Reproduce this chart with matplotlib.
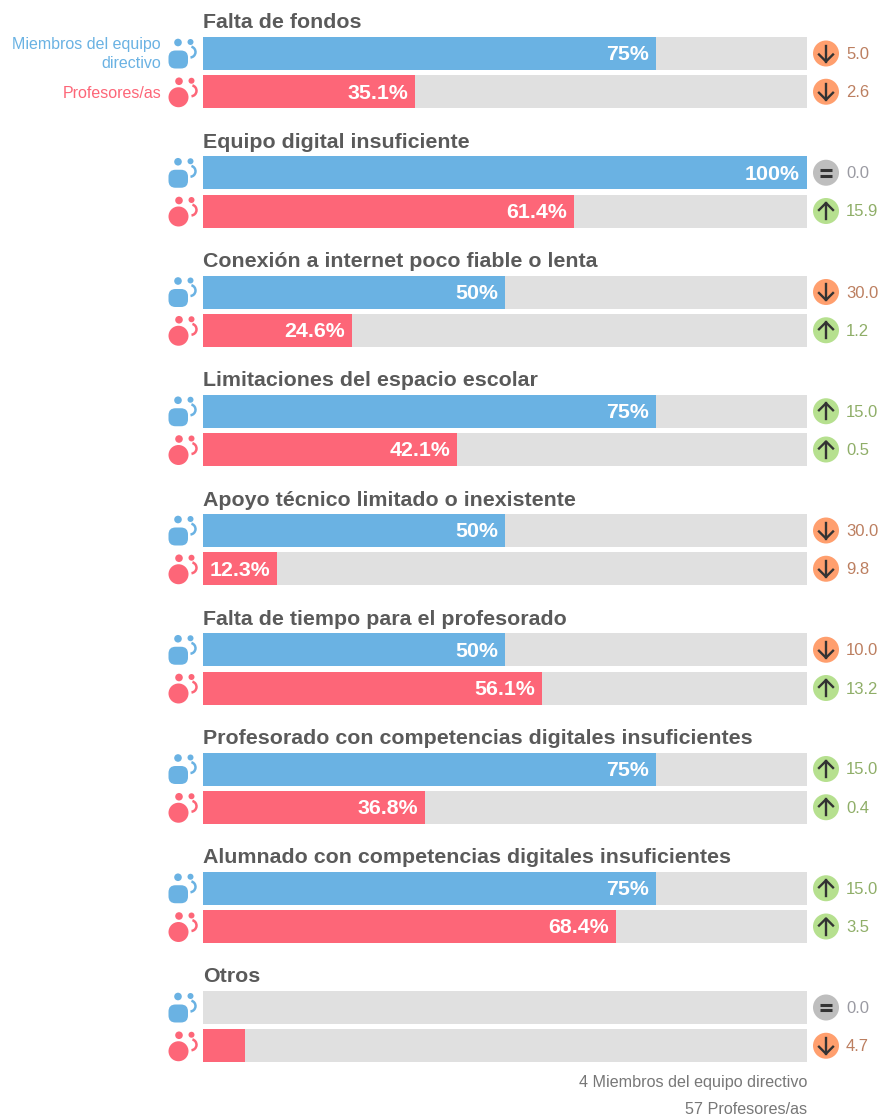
import matplotlib
matplotlib.use("Agg")
import matplotlib.pyplot as plt
from matplotlib.patches import Arc, Circle, FancyBboxPatch

W, H = 880, 1117

categories = [
    "Falta de fondos",
    "Equipo digital insuficiente",
    "Conexión a internet poco fiable o lenta",
    "Limitaciones del espacio escolar",
    "Apoyo técnico limitado o inexistente",
    "Falta de tiempo para el profesorado",
    "Profesorado con competencias digitales insuficientes",
    "Alumnado con competencias digitales insuficientes",
    "Otros",
]
directivos = [75, 100, 50, 75, 50, 50, 75, 75, 0]
profesores = [35.1, 61.4, 24.6, 42.1, 12.3, 56.1, 36.8, 68.4, 7.0]
diff_directivos = [5.0, 0.0, 30.0, 15.0, 30.0, 10.0, 15.0, 15.0, 0.0]
trend_directivos = ["down", "same", "down", "up", "down", "down", "up", "up", "same"]
diff_profesores = [2.6, 15.9, 1.2, 0.5, 9.8, 13.2, 0.4, 3.5, 4.7]
trend_profesores = ["down", "up", "up", "up", "down", "up", "up", "up", "down"]

BLUE = "#6AB2E3"
RED = "#FD6678"
TREND_COLORS = {
    "down": ("#FF9F6E", "#BC7F60"),
    "same": ("#BEBEBE", "#9A9AA2"),
    "up": ("#B6E08F", "#8FAE68"),
}
FONT = "Liberation Sans"

FIRST_TOP = 37
GROUP_STEP = 119.25
RED_OFFSET = 38.25
BAR_H = 33
BAR_LEFT, BAR_RIGHT = 203, 807

fig = plt.figure(figsize=(W / 100, H / 100), dpi=100)

# pixel axes for everything that is not a bar
ax = fig.add_axes([0, 0, 1, 1])
ax.set_xlim(0, W)
ax.set_ylim(H, 0)
ax.axis("off")

# bars live in their own axes, x is the percentage
bars = fig.add_axes([BAR_LEFT / W, 0, (BAR_RIGHT - BAR_LEFT) / W, 1])
bars.set_xlim(0, 100)
bars.set_ylim(H, 0)
bars.axis("off")
bars.patch.set_alpha(0)


def draw_person_icon(x, y, color, round_body):
    ax.add_patch(Circle((x, y), 3.8, color=color, lw=0))
    ax.add_patch(Circle((x + 12.5, y - 0.5), 3, color=color, lw=0))
    ax.add_patch(Arc((x + 12, y + 9.5), 11, 11, theta1=-75, theta2=85, color=color, lw=1.8))
    if round_body:
        ax.add_patch(Circle((x - 0.5, y + 16), 10, color=color, lw=0))
    else:
        ax.add_patch(FancyBboxPatch((x - 9.5, y + 8), 19.5, 18, boxstyle="round,pad=0,rounding_size=7", lw=0, color=color))


def draw_trend(y, trend, value):
    fill, text_color = TREND_COLORS[trend]
    cx = 826
    ax.add_patch(Circle((cx, y), 13, color=fill, lw=0))
    ink = "#333333"
    if trend == "same":
        ax.plot([cx - 6, cx + 6], [y - 2.8, y - 2.8], color=ink, lw=2.2, solid_capstyle="butt")
        ax.plot([cx - 6, cx + 6], [y + 2.8, y + 2.8], color=ink, lw=2.2, solid_capstyle="butt")
    else:
        sign = 1 if trend == "down" else -1
        ax.plot([cx, cx], [y - 8 * sign, y + 8 * sign], color=ink, lw=1.7)
        ax.plot([cx - 7, cx, cx + 7], [y + 1 * sign, y + 8 * sign, y + 1 * sign], color=ink, lw=1.7)
    ax.text(846, y + 1, f"{value:.1f}", color=text_color, fontsize=12, family=FONT, ha="left", va="center")


for i, name in enumerate(categories):
    top = FIRST_TOP + i * GROUP_STEP
    red_top = top + RED_OFFSET
    mid_blue = top + BAR_H / 2
    mid_red = red_top + BAR_H / 2

    ax.text(BAR_LEFT, top - 14, name, color="#5A5A5A", fontsize=15.4, fontweight="bold", family=FONT, ha="left", va="center")

    for bar_top, value, color in ((top, directivos[i], BLUE), (red_top, profesores[i], RED)):
        mid = bar_top + BAR_H / 2
        bars.barh(mid, 100, height=BAR_H, color="#E0E0E0", lw=0)
        bars.barh(mid, value, height=BAR_H, color=color, lw=0)
        # empty row and the tiny Otros bar carry no label
        if value >= 10:
            label = f"{value:g}%"
            bars.annotate(label, (value, mid), xytext=(-5, -1), textcoords="offset points", color="white",
                          fontsize=15.4, fontweight="bold", family=FONT, ha="right", va="center")

    draw_person_icon(178, top + 5.5, BLUE, False)
    draw_person_icon(179, red_top + 6, RED, True)
    draw_trend(mid_blue, trend_directivos[i], diff_directivos[i])
    draw_trend(mid_red, trend_profesores[i], diff_profesores[i])

ax.text(161, 45, "Miembros del equipo", color=BLUE, fontsize=11.5, family=FONT, ha="right", va="center")
ax.text(161, 64, "directivo", color=BLUE, fontsize=11.5, family=FONT, ha="right", va="center")
ax.text(161, 93, "Profesores/as", color=RED, fontsize=11.5, family=FONT, ha="right", va="center")
ax.text(807, 1083, "4 Miembros del equipo directivo", color="#777777", fontsize=11.6, family=FONT, ha="right", va="center")
ax.text(807, 1109, "57 Profesores/as", color="#777777", fontsize=11.6, family=FONT, ha="right", va="center")

fig.savefig("out.png", dpi=100, facecolor="white")
